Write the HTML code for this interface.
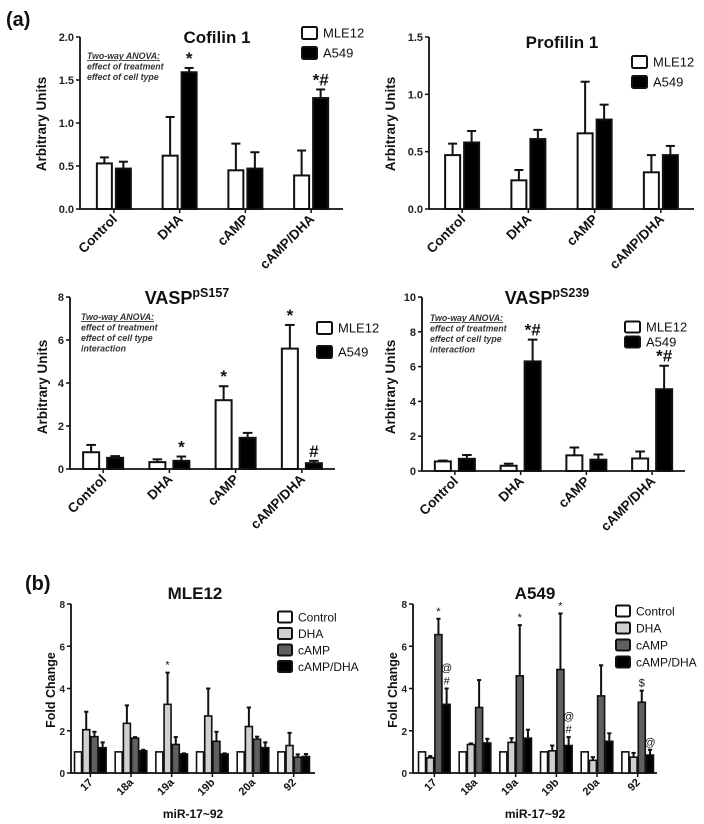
<!DOCTYPE html>
<html><head><meta charset="utf-8">
<style>
html,body{margin:0;padding:0;background:#fff;}
svg{display:block;font-family:"Liberation Sans",Arial,sans-serif;}
</style></head>
<body>
<svg id="fig" width="704" height="824" viewBox="0 0 704 824"></svg>
<script>
// ---------- DATA ----------
const treatCats = ["Control","DHA","cAMP","cAMP/DHA"];
const cofMLE = [0.53,0.62,0.45,0.39];
const cofMLEerr = [0.07,0.45,0.31,0.29];
const cofA549 = [0.47,1.59,0.47,1.29];
const cofA549err = [0.08,0.05,0.19,0.10];
const cofTicks = ["0.0","0.5","1.0","1.5","2.0"];

const proMLE = [0.47,0.25,0.66,0.32];
const proMLEerr = [0.10,0.09,0.45,0.15];
const proA549 = [0.58,0.61,0.78,0.47];
const proA549err = [0.10,0.08,0.13,0.08];
const proTicks = ["0.0","0.5","1.0","1.5"];

const v157MLE = [0.78,0.32,3.2,5.6];
const v157MLEerr = [0.34,0.13,0.65,1.1];
const v157A549 = [0.52,0.38,1.45,0.27];
const v157A549err = [0.08,0.2,0.23,0.11];
const v157Ticks = ["0","2","4","6","8"];

const v239MLE = [0.55,0.3,0.9,0.72];
const v239MLEerr = [0.05,0.12,0.45,0.4];
const v239A549 = [0.7,6.3,0.65,4.7];
const v239A549err = [0.22,1.25,0.3,1.35];
const v239Ticks = ["0","2","4","6","8","10"];

const mirCats = ["17","18a","19a","19b","20a","92"];
const mirTicks = ["0","2","4","6","8"];
const mleCtrl = [1,1,1,1,1,1];
const mleDHA = [2.05,2.35,3.25,2.7,2.2,1.3];
const mleDHAerr = [0.85,0.85,1.5,1.3,0.9,0.6];
const mleCAMP = [1.72,1.65,1.35,1.5,1.6,0.75];
const mleCAMPerr = [0.23,0.05,0.35,0.45,0.12,0.13];
const mleCD = [1.2,1.05,0.9,0.9,1.2,0.78];
const mleCDerr = [0.25,0.05,0.03,0.03,0.25,0.12];

const aCtrl = [1,1,1,1,1,1];
const aDHA = [0.72,1.35,1.45,1.05,0.6,0.75];
const aDHAerr = [0.08,0.05,0.2,0.25,0.15,0.2];
const aCAMP = [6.55,3.1,4.6,4.9,3.65,3.35];
const aCAMPerr = [0.75,1.3,2.4,2.65,1.45,0.55];
const aCD = [3.25,1.42,1.65,1.3,1.5,0.85];
const aCDerr = [0.75,0.2,0.4,0.4,0.38,0.25];

// ---------- helpers ----------
const NS="http://www.w3.org/2000/svg";
const svg=document.getElementById('fig');
function el(tag,attrs,parent,text){
  const e=document.createElementNS(NS,tag);
  for(const k in attrs)e.setAttribute(k,attrs[k]);
  if(text!==undefined)e.textContent=text;
  (parent||svg).appendChild(e);return e;
}
function txt(x,y,s,size,opts,name){
  const e=el('text',Object.assign({x:x,y:y,'font-size':size,fill:'#111'},opts||{}),null,s);
  
  
  return e;
}

function panel(p){
  const g=el('g',{});
  
  
  const ymax=parseFloat(p.ticks[p.ticks.length-1]);
  const Y=v=>p.y0-(v/ymax)*(p.y0-p.y1);
  const n=p.cats.length;
  const band=(p.xEnd-p.x0)/n;
  const X=i=>p.x0+band*(i+0.5)+(p.shift||0);
  const ax=el('path',{d:`M${p.x0},${p.y1} L${p.x0},${p.y0} L${p.xEnd},${p.y0}`,stroke:'#111','stroke-width':1.8,fill:'none'},g);
  
  
  p.ticks.forEach(t=>{
    const y=Y(parseFloat(t));
    el('line',{x1:p.x0-4,x2:p.x0,y1:y,y2:y,stroke:'#111','stroke-width':1.5},g);
    const tl=el('text',{x:p.x0-6,y:y+4,'font-size':p.tickSize||11,'text-anchor':'end','font-weight':'bold',fill:'#222'},g,t);
    
    
  });
  const ns=p.series.length;
  const bw=p.bw, gap=p.gap;
  const gw=ns*bw+(ns-1)*gap;
  p.cats.forEach((c,i)=>{
    const cx=X(i);
    el('line',{x1:cx,x2:cx,y1:p.y0,y2:p.y0+4,stroke:'#111','stroke-width':1.5},g);
    const lx=cx+(p.labShift||4), ly=p.y0+(p.labDrop||11);
    const cl=el('text',{x:lx,y:ly,'font-size':p.catSize||13.5,'font-weight':'bold','text-anchor':'end',fill:'#111',transform:`rotate(-45 ${lx} ${ly})`},g,c);
    
    
    p.series.forEach((s,j)=>{
      const bx=cx-gw/2+j*(bw+gap);
      const v=s.vals[i], e=s.err?s.err[i]:0;
      const yt=Y(v);
      if(e>0){
        const ye=Y(v+e);
        el('line',{x1:bx+bw/2,x2:bx+bw/2,y1:yt,y2:ye,stroke:'#111','stroke-width':2},g);
        el('line',{x1:bx+bw/2-bw*0.3,x2:bx+bw/2+bw*0.3,y1:ye,y2:ye,stroke:'#111','stroke-width':2},g);
      }
      const r=el('rect',{x:bx,y:yt,width:bw,height:p.y0-yt,fill:s.fill,stroke:'#111','stroke-width':p.sw||2},g);
      
      
      if(s.ann&&s.ann[i]){
        const lines=s.ann[i].split('|');
        let yy=Y(v+e)-4;
        for(let k=lines.length-1;k>=0;k--){
          const a=el('text',{x:bx+bw/2,y:yy,'font-size':p.annSize||17,'text-anchor':'middle','font-weight':p.annBold===false?'normal':'bold',fill:'#111'},g,lines[k]);
          
          
          yy-=p.annStep||14;
        }
      }
    });
  });
  return {Y,X};
}
function legend(x,y,step,items,size,box,name){
  const g=el('g',{});
  
  
  items.forEach((it,i)=>{
    const yy=y+i*step;
    el('rect',{x:x,y:yy-box.h/2,width:box.w,height:box.h,fill:it.fill,stroke:'#111','stroke-width':2,rx:1.5},g);
    const t=el('text',{x:x+box.w+6,y:yy+size*0.36,'font-size':size,fill:'#111'},g,it.label);
    
    
  });
}
function ylabel(x,y,s,size){
  const t=el('text',{x:x,y:y,'font-size':size,'font-weight':'bold','text-anchor':'middle',fill:'#111',transform:`rotate(-90 ${x} ${y})`},null,s);
  
  
}
function anova(x,y,lines){
  lines.forEach((l,i)=>{
    const t=el('text',{x:x,y:y+i*10.5,'font-size':8.8,'font-style':'italic','font-weight':'bold',fill:'#333','text-decoration':i===0?'underline':'none'},null,l);
    
    
  });
}

txt(6,26,'(a)',20,{'font-weight':'bold'},'panel-label-a');
txt(25,590,'(b)',20,{'font-weight':'bold'},'panel-label-b');

// Cofilin
panel({name:'cofilin-chart',cats:treatCats,ticks:cofTicks,x0:80,xEnd:343,y0:209,y1:37,bw:15,gap:4,shift:1,
 series:[{key:'mle12',fill:'#fff',vals:cofMLE,err:cofMLEerr},{key:'a549',fill:'#000',vals:cofA549,err:cofA549err,ann:['','*','','*#']}]});
txt(217,43,'Cofilin 1',17,{'font-weight':'bold','text-anchor':'middle'},'chart-title');
ylabel(46,124,'Arbitrary Units',13.5);
anova(87,59,['Two-way ANOVA:','effect of treatment','effect of cell type']);
legend(302,33,20,[{fill:'#fff',label:'MLE12'},{fill:'#000',label:'A549'}],13,{w:15,h:12},'legend-cofilin');

// Profilin
panel({name:'profilin-chart',cats:treatCats,ticks:proTicks,x0:429,xEnd:694,y0:209,y1:37,bw:15,gap:4,
 series:[{key:'mle12',fill:'#fff',vals:proMLE,err:proMLEerr},{key:'a549',fill:'#000',vals:proA549,err:proA549err}]});
txt(562,48,'Profilin 1',17,{'font-weight':'bold','text-anchor':'middle'},'chart-title');
ylabel(395,124,'Arbitrary Units',13.5);
legend(632,62,20,[{fill:'#fff',label:'MLE12'},{fill:'#000',label:'A549'}],13,{w:15,h:12},'legend-profilin');

// VASP pS157
panel({name:'vasp-s157-chart',cats:treatCats,ticks:v157Ticks,x0:70,xEnd:335,y0:469,y1:297,bw:16,gap:8,
 series:[{key:'mle12',fill:'#fff',vals:v157MLE,err:v157MLEerr,ann:['','','*','*']},{key:'a549',fill:'#000',vals:v157A549,err:v157A549err,ann:['','*','','#']}]});
{const t=txt(187,304,'VASP',18,{'font-weight':'bold','text-anchor':'middle'},'chart-title');
 el('tspan',{dy:-7,'font-size':12.5},t,'pS157');}
ylabel(47,387,'Arbitrary Units',13.5);
anova(81,320,['Two-way ANOVA:','effect of treatment','effect of cell type','interaction']);
legend(317,328,24,[{fill:'#fff',label:'MLE12'},{fill:'#000',label:'A549'}],13,{w:15,h:12},'legend-vasp157');

// VASP pS239
panel({name:'vasp-s239-chart',cats:treatCats,ticks:v239Ticks,x0:422,xEnd:685,y0:471,y1:297,bw:16,gap:8,
 series:[{key:'mle12',fill:'#fff',vals:v239MLE,err:v239MLEerr},{key:'a549',fill:'#000',vals:v239A549,err:v239A549err,ann:['','*#','','*#']}]});
{const t=txt(547,304,'VASP',18,{'font-weight':'bold','text-anchor':'middle'},'chart-title');
 el('tspan',{dy:-7,'font-size':12.5},t,'pS239');}
ylabel(395,387,'Arbitrary Units',13.5);
anova(430,321,['Two-way ANOVA:','effect of treatment','effect of cell type','interaction']);
legend(625,327,15,[{fill:'#fff',label:'MLE12'},{fill:'#000',label:'A549'}],13,{w:15,h:11},'legend-vasp239');

// miR MLE12
const mirFills=['#fff','#d0d0d0','#606060','#000'];
panel({name:'mir-mle12-chart',cats:mirCats,ticks:mirTicks,x0:71,xEnd:315,y0:773,y1:604,bw:7,gap:1.2,shift:-1,sw:1.6,
 catSize:11,labShift:3,labDrop:10,annSize:11,annBold:false,tickSize:10,
 series:[{key:'control',fill:mirFills[0],vals:mleCtrl},
 {key:'dha',fill:mirFills[1],vals:mleDHA,err:mleDHAerr,ann:['','','*','','','']},
 {key:'camp',fill:mirFills[2],vals:mleCAMP,err:mleCAMPerr},
 {key:'camp-dha',fill:mirFills[3],vals:mleCD,err:mleCDerr}]});
txt(195,599,'MLE12',17,{'font-weight':'bold','text-anchor':'middle'},'chart-title');
ylabel(55,690,'Fold Change',12.5);
txt(193,818,'miR-17~92',12,{'font-weight':'bold','text-anchor':'middle'},'x-axis-title');
legend(278,617,16.5,[{fill:mirFills[0],label:'Control'},{fill:mirFills[1],label:'DHA'},{fill:mirFills[2],label:'cAMP'},{fill:mirFills[3],label:'cAMP/DHA'}],12,{w:14,h:11},'legend-mle12');

// miR A549
panel({name:'mir-a549-chart',cats:mirCats,ticks:mirTicks,x0:413,xEnd:657,y0:773,y1:604,bw:7,gap:1.2,shift:1,sw:1.6,
 catSize:11,labShift:3,labDrop:10,annSize:11,annBold:false,annStep:13,tickSize:10,
 series:[{key:'control',fill:mirFills[0],vals:aCtrl},
 {key:'dha',fill:mirFills[1],vals:aDHA,err:aDHAerr},
 {key:'camp',fill:mirFills[2],vals:aCAMP,err:aCAMPerr,ann:['*','','*','*','','$']},
 {key:'camp-dha',fill:mirFills[3],vals:aCD,err:aCDerr,ann:['@|#','','','@|#','','@']}]});
txt(535,599,'A549',17,{'font-weight':'bold','text-anchor':'middle'},'chart-title');
ylabel(397,690,'Fold Change',12.5);
txt(535,818,'miR-17~92',12,{'font-weight':'bold','text-anchor':'middle'},'x-axis-title');
legend(616,611,17,[{fill:mirFills[0],label:'Control'},{fill:mirFills[1],label:'DHA'},{fill:mirFills[2],label:'cAMP'},{fill:mirFills[3],label:'cAMP/DHA'}],12,{w:14,h:11},'legend-a549');
</script>
</body></html>
